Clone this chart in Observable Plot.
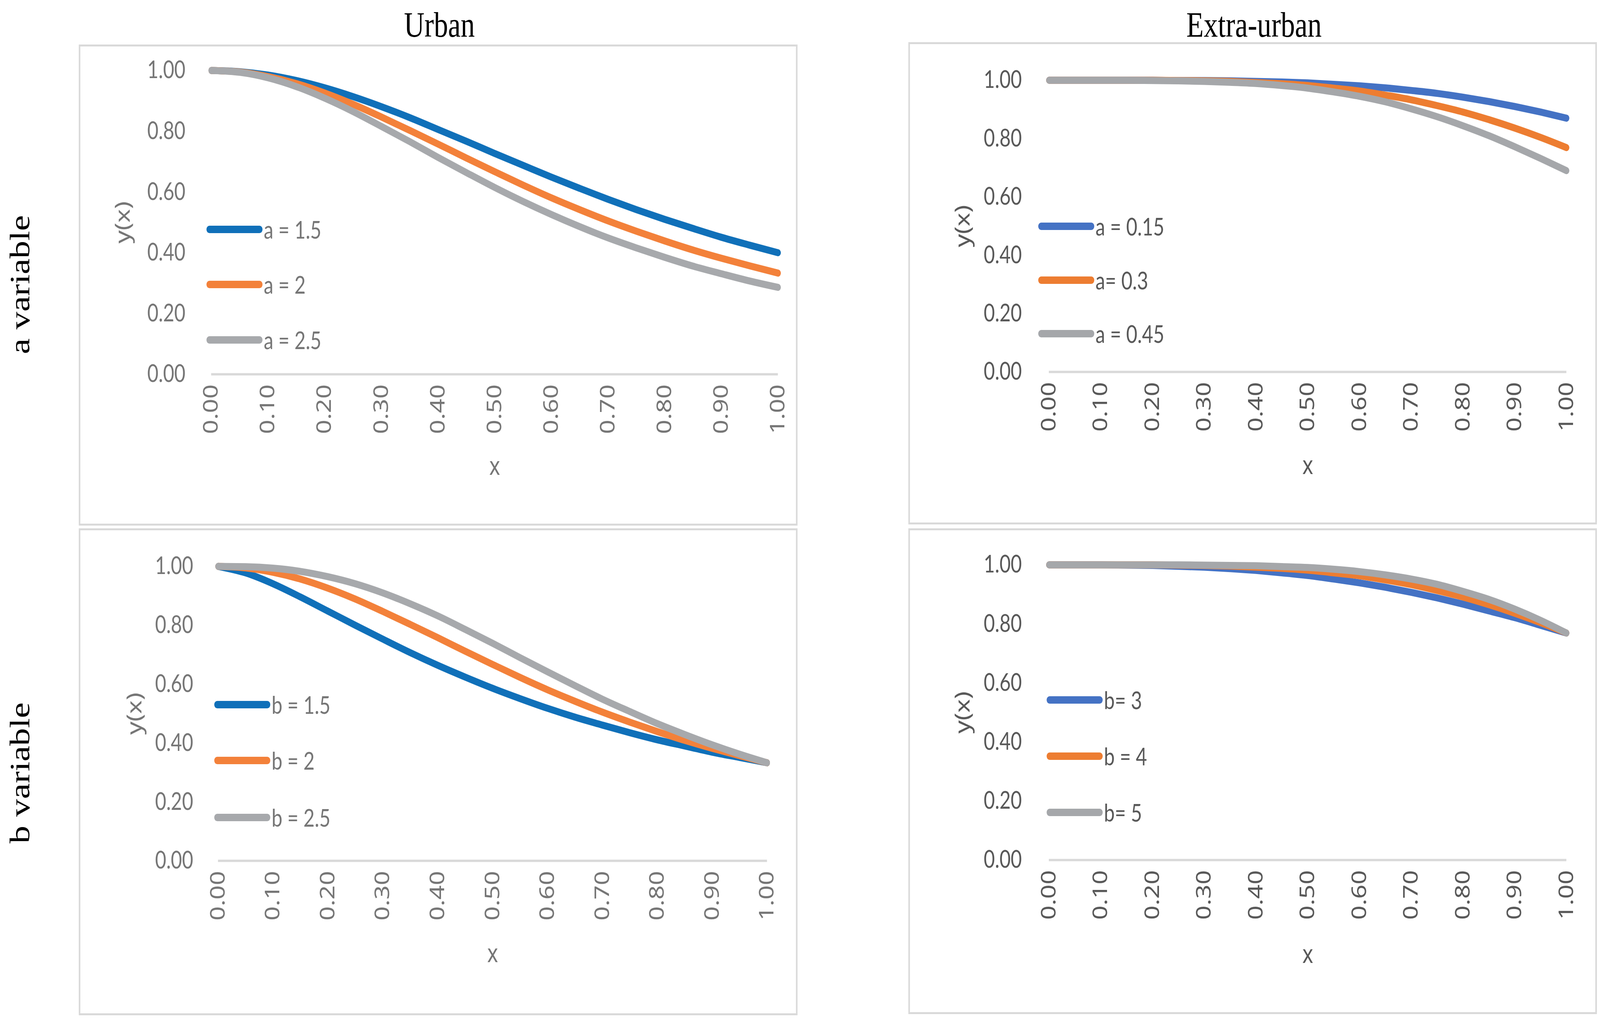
<!DOCTYPE html>
<html>
<head>
<meta charset="utf-8">
<script src="https://cdn.jsdelivr.net/npm/d3@7"></script>
<script src="https://cdn.jsdelivr.net/npm/@observablehq/plot@0.6"></script>
<style>
  html, body { margin: 0; padding: 0; background: #ffffff; overflow: hidden; }
  #page { position: absolute; left: 0; top: 0; width: 5138px; height: 2607px; background: #ffffff; overflow: hidden; transform-origin: 0 0; }
  .box { position: absolute; box-sizing: border-box; border: 5px solid #D9D9D9; }
  .plotwrap { position: absolute; }
  .title { position: absolute; font-family: "Liberation Serif", "DejaVu Serif", serif; font-size: 91px; color: #000; white-space: nowrap; line-height: 1; }
  .rowlabel { position: absolute; font-family: "Liberation Serif", "DejaVu Serif", serif; font-size: 91px; color: #000; white-space: nowrap; line-height: 1; transform-origin: 0 0; }
  .legrow { position: absolute; display: flex; align-items: center; height: 80px; white-space: nowrap; }
  .legrow .sw { width: 180px; height: 19px; border-radius: 10px; }
  .legrow .lt { font-family: Lato, "Open Sans", sans-serif; font-size: 62px; margin-left: 4px; line-height: 1; }
</style>
</head>
<body>
<div id="page"></div>
<script>
// ---------- data ----------
const xValues = [0.00,0.05,0.10,0.15,0.20,0.25,0.30,0.35,0.40,0.45,0.50,0.55,0.60,0.65,0.70,0.75,0.80,0.85,0.90,0.95,1.00];
const xTicks = [0.0,0.1,0.2,0.3,0.4,0.5,0.6,0.7,0.8,0.9,1.0];
const yTicks = [0.0,0.2,0.4,0.6,0.8,1.0];

// Urban, a variable
const urbanA15 = [1.000,0.996,0.985,0.967,0.943,0.914,0.881,0.845,0.806,0.767,0.727,0.688,0.649,0.612,0.576,0.542,0.510,0.480,0.451,0.425,0.400];
const urbanA20 = [1.000,0.995,0.980,0.957,0.926,0.889,0.847,0.803,0.758,0.712,0.667,0.623,0.581,0.542,0.505,0.471,0.439,0.409,0.382,0.357,0.333];
const urbanA25 = [1.000,0.994,0.976,0.947,0.909,0.865,0.816,0.766,0.714,0.664,0.615,0.569,0.526,0.486,0.449,0.416,0.385,0.356,0.331,0.307,0.286];

// Extra-urban, a variable
const extraA015 = [1.000,1.000,1.000,1.000,1.000,0.999,0.999,0.998,0.996,0.994,0.991,0.986,0.981,0.974,0.965,0.955,0.942,0.927,0.910,0.891,0.870];
const extraA030 = [1.000,1.000,1.000,1.000,1.000,0.999,0.998,0.996,0.992,0.988,0.982,0.973,0.963,0.949,0.933,0.913,0.891,0.865,0.836,0.804,0.769];
const extraA045 = [1.000,1.000,1.000,1.000,0.999,0.998,0.996,0.993,0.989,0.982,0.973,0.960,0.945,0.926,0.902,0.875,0.844,0.810,0.772,0.732,0.690];

// Urban, b variable
const urbanB15 = [1.000,0.978,0.941,0.896,0.848,0.800,0.753,0.707,0.664,0.624,0.586,0.551,0.518,0.488,0.461,0.435,0.411,0.390,0.369,0.351,0.333];
const urbanB20 = [1.000,0.995,0.980,0.957,0.926,0.889,0.847,0.803,0.758,0.712,0.667,0.623,0.581,0.542,0.505,0.471,0.439,0.409,0.382,0.357,0.333];
const urbanB25 = [1.000,0.999,0.994,0.983,0.965,0.941,0.910,0.873,0.832,0.786,0.739,0.690,0.642,0.595,0.549,0.507,0.466,0.429,0.394,0.362,0.333];

// Extra-urban, b variable
const extraB3 = [1.000,1.000,1.000,0.999,0.998,0.995,0.992,0.987,0.981,0.973,0.964,0.952,0.939,0.924,0.907,0.888,0.867,0.844,0.821,0.795,0.769];
const extraB4 = [1.000,1.000,1.000,1.000,1.000,0.999,0.998,0.996,0.992,0.988,0.982,0.973,0.963,0.949,0.933,0.913,0.891,0.865,0.836,0.804,0.769];
const extraB5 = [1.000,1.000,1.000,1.000,1.000,1.000,0.999,0.998,0.997,0.994,0.991,0.985,0.977,0.966,0.952,0.934,0.910,0.883,0.850,0.812,0.769];

const columnTitles = ["Urban", "Extra-urban"];
const rowTitles = ["a variable", "b variable"];
const legendA = ["a = 1.5", "a = 2", "a = 2.5"];
const legendB = ["a = 0.15", "a= 0.3", "a = 0.45"];
const legendC = ["b = 1.5", "b = 2", "b = 2.5"];
const legendD = ["b= 3", "b = 4", "b= 5"];

const colorsUrban = ["#1070B9", "#F3813A", "#A7A9AC"];
const colorsExtra = ["#4472C4", "#ED7D31", "#A5A7AA"];

// ---------- layout (in reference pixels; the page is fitted to the window) ----------
const page = document.getElementById("page");
const sx = window.innerWidth / 5138;
const sy = window.innerHeight / 2607;
page.style.transform = "scale(" + sx + "," + sy + ")";

const panels = [
  {L: 253, T: 114, W: 2308, H: 1232, mL: 425, mR: 63, mT: 66, mB: 388, tickPadY: 83, ylabDx: -283, xlabDy: 236,
   series: [urbanA15, urbanA20, urbanA25], names: legendA, colors: colorsUrban, text: "#767676",
   legX: 663, legY: [587, 728, 870]},
  {L: 2917, T: 108, W: 2211, H: 1235, mL: 451, mR: 98, mT: 97, mB: 391, tickPadY: 87, ylabDx: -276, xlabDy: 240,
   series: [extraA015, extraA030, extraA045], names: legendB, colors: colorsExtra, text: "#595959",
   legX: 3334, legY: [579, 717, 854]},
  {L: 253, T: 1353, W: 2308, H: 1247, mL: 447, mR: 98, mT: 97, mB: 396, tickPadY: 80, ylabDx: -267, xlabDy: 238,
   series: [urbanB15, urbanB20, urbanB25], names: legendC, colors: colorsUrban, text: "#767676",
   legX: 688, legY: [1804, 1947, 2093]},
  {L: 2917, T: 1353, W: 2211, H: 1244, mL: 451, mR: 98, mT: 93, mB: 395, tickPadY: 87, ylabDx: -276, xlabDy: 242,
   series: [extraB3, extraB4, extraB5], names: legendD, colors: colorsExtra, text: "#595959",
   legX: 3361, legY: [1792, 1936, 2080]}
];

const fmt = d3.format(".2f");
const wideFont = "'Noto Sans', 'DejaVu Sans', sans-serif";

panels.forEach((p) => {
  const box = document.createElement("div");
  box.className = "box";
  Object.assign(box.style, {left: p.L + "px", top: p.T + "px", width: p.W + "px", height: p.H + "px"});
  page.appendChild(box);

  const lineMarks = p.series.map((vals, k) =>
    Plot.line(xValues.map((x, i) => ({x, y: vals[i], name: p.names[k]})), {
      x: "x", y: "y", stroke: p.colors[k], strokeWidth: 18,
      curve: "monotone-x", strokeLinecap: "round", strokeLinejoin: "round"
    })
  );

  const chart = Plot.plot({
    width: p.W, height: p.H,
    marginLeft: p.mL, marginRight: p.mR, marginTop: p.mT, marginBottom: p.mB,
    x: {domain: [0, 1], label: null},
    y: {domain: [0, 1], label: null},
    style: {background: "transparent", maxWidth: "none", overflow: "visible", color: p.text},
    marks: [
      Plot.ruleY([0], {stroke: "#D9D9D9", strokeWidth: 6}),
      Plot.axisY(yTicks, {anchor: "left", tickFormat: fmt, tickSize: 0, tickPadding: p.tickPadY,
        fontSize: 62, fontFamily: "Lato, 'Open Sans', sans-serif", label: null}),
      Plot.axisX(xTicks, {anchor: "bottom", tickFormat: fmt, tickSize: 0, tickPadding: 26, tickRotate: -90,
        fontSize: 64, fontFamily: wideFont, label: null}),
      Plot.text(["y(x)"], {frameAnchor: "left", dx: p.ylabDx, rotate: -90, fontSize: 66,
        textAnchor: "middle", lineAnchor: "middle", fontFamily: wideFont, fill: p.text}),
      Plot.text(["x"], {frameAnchor: "bottom", dy: p.xlabDy, fontSize: 66,
        textAnchor: "middle", lineAnchor: "middle", fontFamily: wideFont, fill: p.text}),
      ...lineMarks
    ]
  });
  const wrap = document.createElement("div");
  wrap.className = "plotwrap";
  Object.assign(wrap.style, {left: p.L + "px", top: p.T + "px", width: p.W + "px", height: p.H + "px"});
  wrap.appendChild(chart);
  page.appendChild(wrap);

  // legend
  p.names.forEach((name, k) => {
    const row = document.createElement("div");
    row.className = "legrow";
    row.style.left = p.legX + "px";
    row.style.top = (p.legY[k] - 40) + "px";
    const sw = document.createElement("span");
    sw.className = "sw";
    sw.style.background = p.colors[k];
    const lt = document.createElement("span");
    lt.className = "lt";
    lt.style.color = p.text;
    lt.textContent = name;
    row.appendChild(sw);
    row.appendChild(lt);
    page.appendChild(row);
  });
});

// column titles
[[columnTitles[0], 1411], [columnTitles[1], 4027]].forEach(([t, cx]) => {
  const d = document.createElement("div");
  d.className = "title";
  d.textContent = t;
  d.style.left = cx + "px";
  d.style.top = "18px";
  d.style.transform = "translateX(-50%)";
  page.appendChild(d);
});

// row titles (rotated)
[[rowTitles[0], 729], [rowTitles[1], 1979]].forEach(([t, cy]) => {
  const d = document.createElement("div");
  d.className = "rowlabel";
  d.textContent = t;
  page.appendChild(d);
  const w = d.offsetWidth;
  d.style.left = "18px";
  d.style.top = (cy + w / 2) + "px";
  d.style.transform = "rotate(-90deg)";
});
</script>
</body>
</html>
